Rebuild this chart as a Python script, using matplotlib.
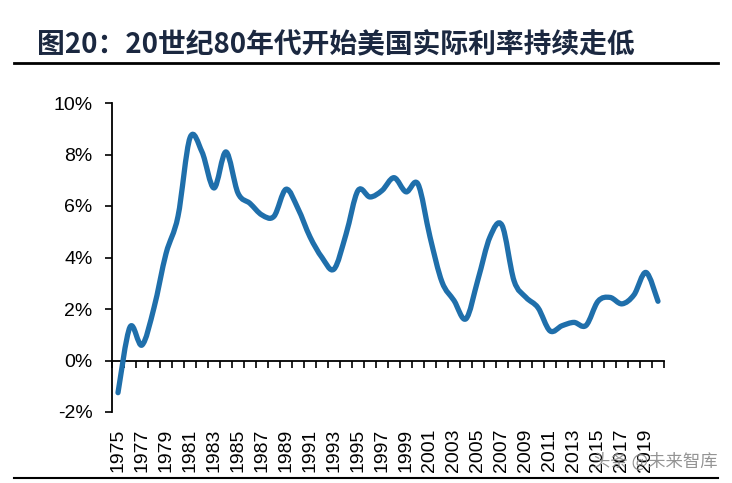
import numpy as np
import matplotlib
matplotlib.use("Agg")
import matplotlib.pyplot as plt
from matplotlib.path import Path
from matplotlib.patches import PathPatch
from matplotlib.lines import Line2D

plt.rcParams['font.family'] = ['Liberation Sans', 'Noto Sans CJK SC', 'DejaVu Sans']

# 美国实际利率 (%), 1975-2020
years = list(range(1975, 2021))
rate = [-1.25, 1.3, 0.6, 2.05, 4.15, 5.6, 8.65, 8.1, 6.7, 8.1,
        6.5, 6.1, 5.65, 5.6, 6.65, 5.9, 4.8, 4.0, 3.55, 4.9,
        6.6, 6.35, 6.6, 7.1, 6.55, 6.85, 4.8, 3.05, 2.33, 1.62,
        3.15, 4.8, 5.25, 3.1, 2.45, 2.05, 1.15, 1.35, 1.48, 1.36,
        2.3, 2.45, 2.2, 2.55, 3.42, 2.3]
ytick_vals = [-2, 0, 2, 4, 6, 8, 10]
title = "图20：20世纪80年代开始美国实际利率持续走低"
watermark = "头条 @未来智库"

fig = plt.figure(figsize=(7.32, 4.83), dpi=100)
ax = fig.add_axes([112/732, 1-412/483, 552/732, 309/483])

# smooth line like Excel (Catmull-Rom -> cubic Bezier)
x = np.arange(len(rate), dtype=float)
y = np.array(rate, dtype=float)
pts = np.column_stack([x, y])
verts = [pts[0]]
codes = [Path.MOVETO]
n = len(pts)
for i in range(n - 1):
    p0 = pts[i - 1] if i > 0 else pts[i]
    p1 = pts[i]
    p2 = pts[i + 1]
    p3 = pts[i + 2] if i + 2 < n else pts[i + 1]
    c1 = p1 + (p2 - p0) / 6.0
    c2 = p2 - (p3 - p1) / 6.0
    verts += [c1, c2, p2]
    codes += [Path.CURVE4] * 3
ax.add_patch(PathPatch(Path(verts, codes), facecolor='none', edgecolor='#1f6fab',
                       lw=3.8, capstyle='round', joinstyle='round', zorder=3))

ax.set_xlim(-0.5, len(years) - 0.5)
ax.set_ylim(-2, 10)
ax.set_yticks(ytick_vals)
ax.set_yticklabels([f"{v}%" for v in ytick_vals], fontsize=14)
ax.tick_params(axis='y', direction='out', length=5, width=1.2, pad=9)

ax.spines['top'].set_visible(False)
ax.spines['right'].set_visible(False)
ax.spines['left'].set_linewidth(1.3)
ax.spines['bottom'].set_position(('data', 0))
ax.spines['bottom'].set_linewidth(1.3)

ax.set_xticks(x[::2])
ax.set_xticklabels([str(yr) for yr in years[::2]], rotation=90, fontsize=14)
ax.set_xticks(np.arange(-0.5, len(years) + 0.5, 1.0), minor=True)
ax.tick_params(axis='x', which='major', length=0, pad=49)
ax.tick_params(axis='x', which='minor', direction='out', length=5, width=1.2)

# title and rules
fig.text(37/732, 1-45/483, title, fontsize=20, fontweight='bold', color='#1b2840',
         family=['Noto Sans CJK SC', 'DejaVu Sans'], va='center', ha='left')
fig.add_artist(Line2D([14/732, 718/732], [1-63/483, 1-63/483], color='black', lw=2))
fig.add_artist(Line2D([14/732, 718/732], [1-478/483, 1-478/483], color='black', lw=1.5))

# watermark sits over the last tick labels, as in the source image
fig.text(718/732, 1-462/483, watermark, fontsize=12.5, color='#888888', alpha=0.9,
         family=['Noto Sans CJK SC', 'DejaVu Sans'], va='center', ha='right', zorder=5)

fig.savefig("out.png", dpi=100)
